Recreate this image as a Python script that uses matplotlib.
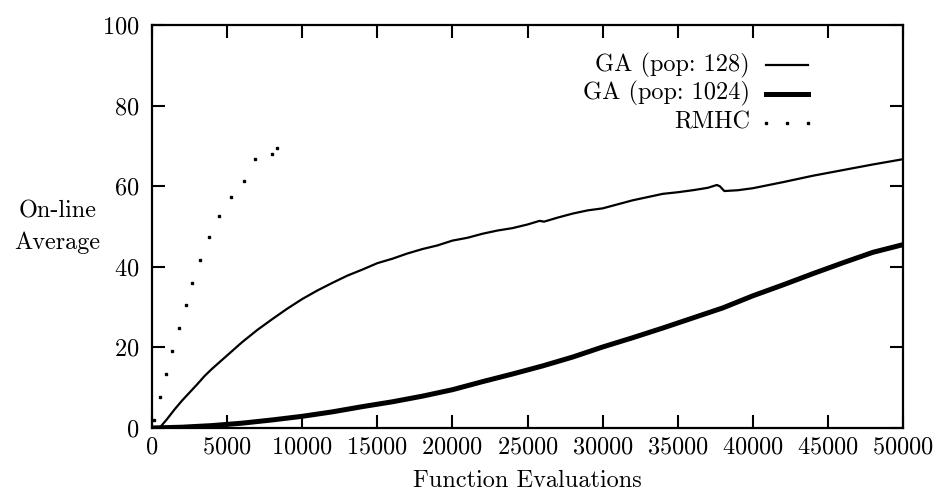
import matplotlib
matplotlib.use("Agg")
import matplotlib.pyplot as plt

# Computer Modern look (cmr10 ships with matplotlib)
plt.rcParams['font.family'] = ['cmr10', 'DejaVu Serif']
plt.rcParams['axes.formatter.use_mathtext'] = True
plt.rcParams['font.size'] = 17.5

# GA, population 128
ga128_x = [500, 1000, 1500, 2000, 2500, 3000, 3500, 4000, 5000, 6000, 7000, 8000,
           9000, 10000, 11000, 12000, 13000, 14000, 15000, 16000, 17000, 18000,
           19000, 20000, 21000, 22000, 23000, 24000, 25000, 25800, 26100, 27000,
           28000, 29000, 30000, 31000, 32000, 33000, 34000, 35000, 36000, 37000,
           37600, 37800, 38100, 39000, 40000, 42000, 44000, 46000, 48000, 50000]
ga128_y = [0.0, 2.2, 4.6, 6.8, 8.8, 10.8, 12.9, 14.7, 18.0, 21.3, 24.3, 27.0,
           29.6, 32.0, 34.1, 36.0, 37.8, 39.3, 40.9, 42.0, 43.3, 44.4,
           45.3, 46.5, 47.2, 48.2, 49.0, 49.6, 50.5, 51.4, 51.2, 52.2,
           53.2, 54.0, 54.5, 55.5, 56.5, 57.3, 58.1, 58.5, 59.0, 59.6,
           60.3, 60.0, 58.8, 59.0, 59.5, 61.0, 62.6, 64.0, 65.4, 66.7]

# GA, population 1024
ga1024_x = [0, 2000, 4000, 6000, 8000, 10000, 12000, 14000, 16000, 18000, 20000,
            22000, 24000, 26000, 28000, 30000, 32000, 34000, 36000, 38000, 40000,
            42000, 44000, 46000, 48000, 50000]
ga1024_y = [0.0, 0.2, 0.6, 1.2, 2.0, 2.9, 4.0, 5.3, 6.5, 7.9, 9.5,
            11.5, 13.4, 15.4, 17.6, 20.1, 22.4, 24.8, 27.3, 29.8, 32.8,
            35.5, 38.3, 41.0, 43.6, 45.5]

# RMHC
rmhc_x = [150, 553, 953, 1353, 1820, 2286, 2686, 3220, 3818, 4484, 5283, 6146,
          6880, 8010, 8345]
rmhc_y = [2.0, 7.6, 13.4, 19.0, 24.8, 30.4, 35.9, 41.7, 47.3, 52.6, 57.2, 61.4,
          66.7, 67.9, 69.4]

fig = plt.figure(figsize=(9.4, 5.0), dpi=100)
ax = fig.add_axes([0.1617, 0.144, 0.799, 0.806])

ax.plot(ga128_x, ga128_y, color='black', lw=1.6)
ax.plot(ga1024_x, ga1024_y, color='black', lw=3.6)
ax.plot(rmhc_x, rmhc_y, linestyle='none', marker='s', ms=1.7, color='black')

ax.set_xlim(0, 50000)
ax.set_ylim(0, 100)
ax.set_xticks(range(0, 50001, 5000))
ax.set_yticks(range(0, 101, 20))

for s in ax.spines.values():
    s.set_linewidth(1.6)
ax.tick_params(direction='in', length=9.5, width=1.5, top=True, right=True)
ax.tick_params(axis='x', pad=6)
ax.tick_params(axis='y', pad=9)

ax.set_xlabel('Function Evaluations', labelpad=8)
fig.text(0.061, 0.546, 'On-line\nAverage', ha='center', va='center',
         linespacing=1.55)

# key, drawn like gnuplot: right-aligned titles with samples after them
keys = [('GA (pop: 128)', dict(color='black', lw=1.6)),
        ('GA (pop: 1024)', dict(color='black', lw=3.6)),
        ('RMHC', None)]
key_y = [0.9, 0.83, 0.758]
for (label, style), ky in zip(keys, key_y):
    ax.text(0.796, ky, label, transform=ax.transAxes, ha='right', va='center')
    if style is not None:
        ax.plot([0.8175, 0.8735], [ky, ky], transform=ax.transAxes, **style)
    else:
        ax.plot([0.8175, 0.845, 0.8735], [ky, ky, ky], transform=ax.transAxes,
                linestyle='none', marker='s', ms=1.7, color='black')

fig.savefig('out.png', dpi=100)
